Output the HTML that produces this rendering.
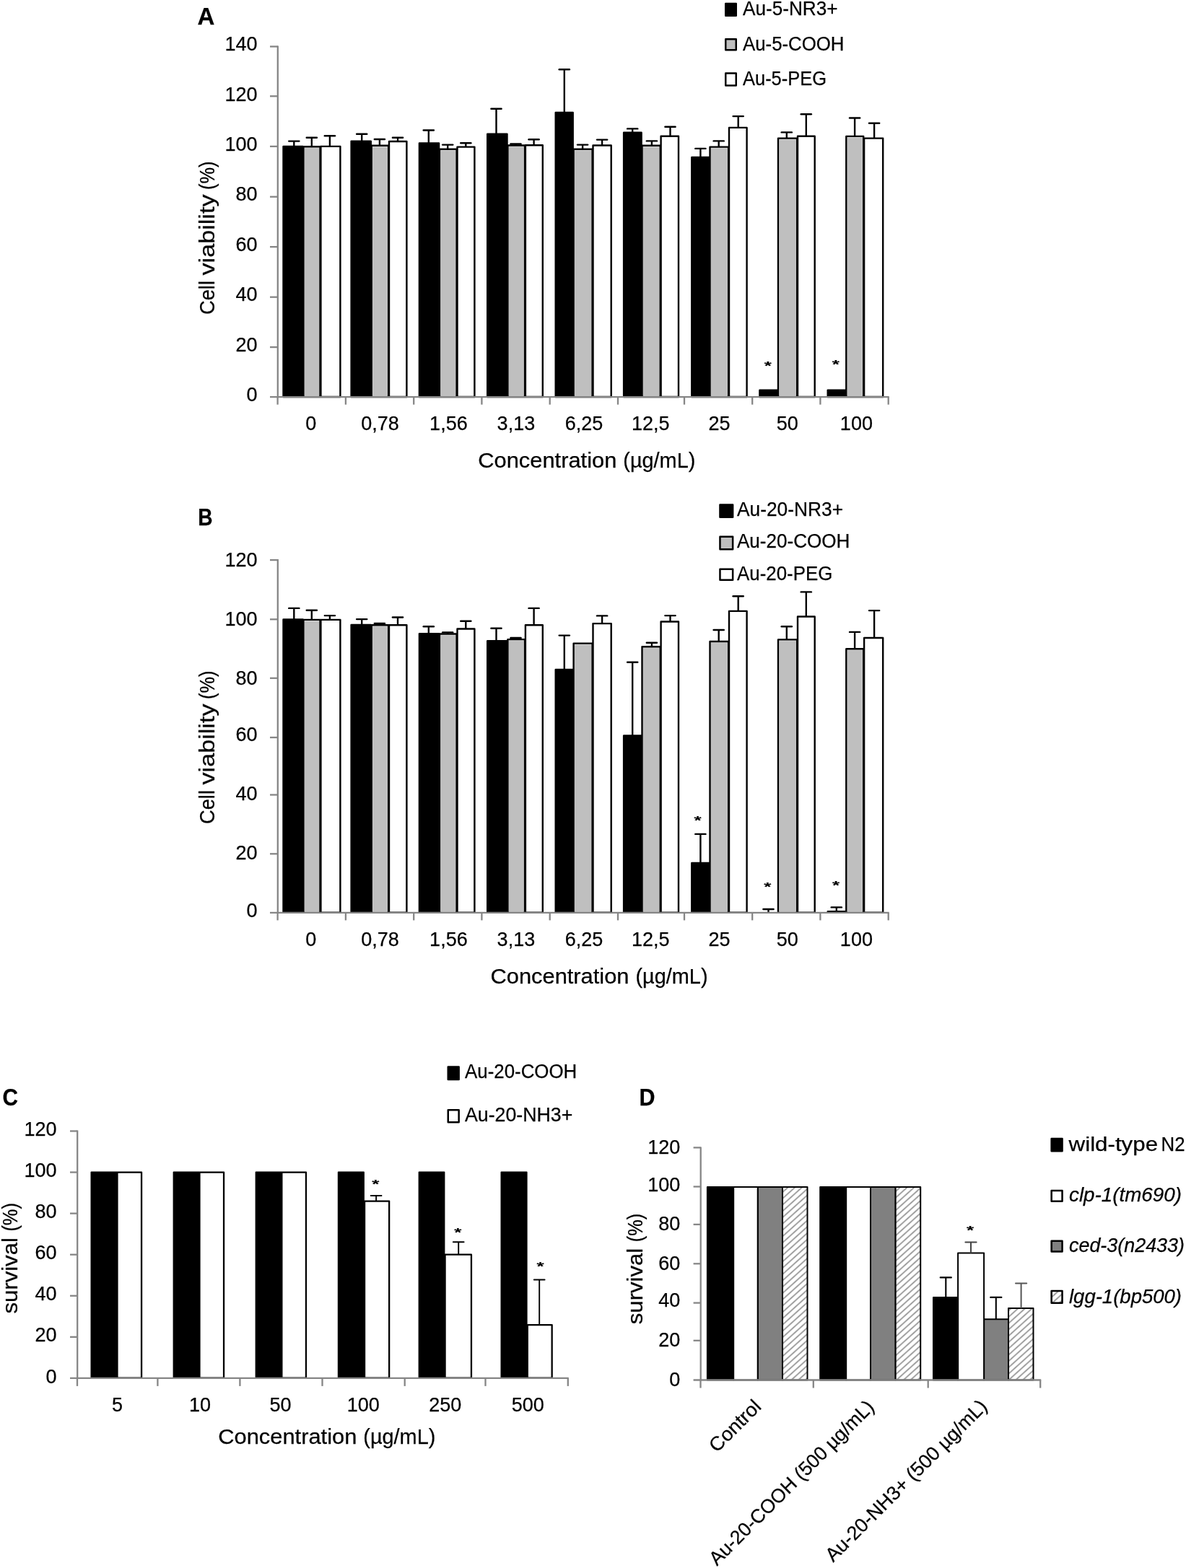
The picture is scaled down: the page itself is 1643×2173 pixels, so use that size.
<!DOCTYPE html>
<html lang="en"><head><meta charset="utf-8"><title>Figure</title>
<style>html,body{margin:0;padding:0;background:#fff;overflow:hidden}svg{display:block}text{font-family:"Liberation Sans", sans-serif;stroke:#000;stroke-width:0.25px}</style></head><body>
<svg width="1643" height="2173" viewBox="0 0 1643 2173">
<defs><pattern id="hatch" patternUnits="userSpaceOnUse" width="6.5" height="6.5" patternTransform="rotate(-42)"><rect width="6.5" height="6.5" fill="#fff"/><line x1="0" y1="3.25" x2="6.5" y2="3.25" stroke="#858585" stroke-width="1.55"/></pattern></defs>
<rect width="1643" height="2173" fill="#fff"/>
<rect x="420.40" y="203.20" width="23.10" height="346.80" fill="#d6d6d6" stroke="#000" stroke-width="2.4" stroke-linejoin="round"/>
<rect x="422.00" y="205.40" width="19.90" height="344.80" fill="#bfbfbf"/>
<rect x="392.50" y="202.90" width="27.00" height="347.10" fill="#000" stroke="#000" stroke-width="2.4" stroke-linejoin="round"/>
<rect x="444.40" y="202.90" width="27.00" height="347.10" fill="#fff" stroke="#000" stroke-width="2.4" stroke-linejoin="round"/>
<line x1="407.30" y1="195.60" x2="407.30" y2="202.70" stroke="#000" stroke-width="2.4" />
<line x1="400.20" y1="195.60" x2="414.40" y2="195.60" stroke="#000" stroke-width="2.4" stroke-linecap="round"/>
<line x1="431.80" y1="190.70" x2="431.80" y2="203.00" stroke="#000" stroke-width="2.4" />
<line x1="424.70" y1="190.70" x2="438.90" y2="190.70" stroke="#000" stroke-width="2.4" stroke-linecap="round"/>
<line x1="456.90" y1="188.20" x2="456.90" y2="202.70" stroke="#000" stroke-width="2.4" />
<line x1="449.80" y1="188.20" x2="464.00" y2="188.20" stroke="#000" stroke-width="2.4" stroke-linecap="round"/>
<rect x="514.70" y="201.80" width="23.40" height="348.20" fill="#d6d6d6" stroke="#000" stroke-width="2.4" stroke-linejoin="round"/>
<rect x="516.30" y="204.00" width="20.20" height="346.20" fill="#bfbfbf"/>
<rect x="486.60" y="195.80" width="27.20" height="354.20" fill="#000" stroke="#000" stroke-width="2.4" stroke-linejoin="round"/>
<rect x="539.00" y="196.00" width="24.40" height="354.00" fill="#fff" stroke="#000" stroke-width="2.4" stroke-linejoin="round"/>
<line x1="501.20" y1="185.70" x2="501.20" y2="195.60" stroke="#000" stroke-width="2.4" />
<line x1="494.10" y1="185.70" x2="508.30" y2="185.70" stroke="#000" stroke-width="2.4" stroke-linecap="round"/>
<line x1="525.90" y1="193.00" x2="525.90" y2="201.60" stroke="#000" stroke-width="2.4" />
<line x1="518.80" y1="193.00" x2="533.00" y2="193.00" stroke="#000" stroke-width="2.4" stroke-linecap="round"/>
<line x1="551.00" y1="190.70" x2="551.00" y2="195.80" stroke="#000" stroke-width="2.4" />
<line x1="543.90" y1="190.70" x2="558.10" y2="190.70" stroke="#000" stroke-width="2.4" stroke-linecap="round"/>
<rect x="609.00" y="206.70" width="23.60" height="343.30" fill="#d6d6d6" stroke="#000" stroke-width="2.4" stroke-linejoin="round"/>
<rect x="610.60" y="208.90" width="20.40" height="341.30" fill="#bfbfbf"/>
<rect x="580.90" y="198.40" width="27.20" height="351.60" fill="#000" stroke="#000" stroke-width="2.4" stroke-linejoin="round"/>
<rect x="633.50" y="203.60" width="23.90" height="346.40" fill="#fff" stroke="#000" stroke-width="2.4" stroke-linejoin="round"/>
<line x1="593.80" y1="180.50" x2="593.80" y2="198.20" stroke="#000" stroke-width="2.4" />
<line x1="586.70" y1="180.50" x2="600.90" y2="180.50" stroke="#000" stroke-width="2.4" stroke-linecap="round"/>
<line x1="620.20" y1="200.60" x2="620.20" y2="206.50" stroke="#000" stroke-width="2.4" />
<line x1="613.10" y1="200.60" x2="627.30" y2="200.60" stroke="#000" stroke-width="2.4" stroke-linecap="round"/>
<line x1="645.30" y1="198.30" x2="645.30" y2="203.40" stroke="#000" stroke-width="2.4" />
<line x1="638.20" y1="198.30" x2="652.40" y2="198.30" stroke="#000" stroke-width="2.4" stroke-linecap="round"/>
<rect x="703.40" y="201.50" width="23.60" height="348.50" fill="#d6d6d6" stroke="#000" stroke-width="2.4" stroke-linejoin="round"/>
<rect x="705.00" y="203.70" width="20.40" height="346.50" fill="#bfbfbf"/>
<rect x="675.20" y="185.80" width="27.30" height="364.20" fill="#000" stroke="#000" stroke-width="2.4" stroke-linejoin="round"/>
<rect x="727.90" y="201.20" width="23.90" height="348.80" fill="#fff" stroke="#000" stroke-width="2.4" stroke-linejoin="round"/>
<line x1="687.50" y1="150.70" x2="687.50" y2="185.60" stroke="#000" stroke-width="2.4" />
<line x1="680.40" y1="150.70" x2="694.60" y2="150.70" stroke="#000" stroke-width="2.4" stroke-linecap="round"/>
<line x1="714.50" y1="199.50" x2="714.50" y2="201.30" stroke="#000" stroke-width="2.4" />
<line x1="707.40" y1="199.50" x2="721.60" y2="199.50" stroke="#000" stroke-width="2.4" stroke-linecap="round"/>
<line x1="739.60" y1="193.30" x2="739.60" y2="201.00" stroke="#000" stroke-width="2.4" />
<line x1="732.50" y1="193.30" x2="746.70" y2="193.30" stroke="#000" stroke-width="2.4" stroke-linecap="round"/>
<rect x="794.60" y="206.70" width="26.00" height="343.30" fill="#d6d6d6" stroke="#000" stroke-width="2.4" stroke-linejoin="round"/>
<rect x="796.20" y="208.90" width="22.80" height="341.30" fill="#bfbfbf"/>
<rect x="769.70" y="156.00" width="24.00" height="394.00" fill="#000" stroke="#000" stroke-width="2.4" stroke-linejoin="round"/>
<rect x="821.50" y="201.50" width="25.20" height="348.50" fill="#fff" stroke="#000" stroke-width="2.4" stroke-linejoin="round"/>
<line x1="781.80" y1="96.20" x2="781.80" y2="155.80" stroke="#000" stroke-width="2.4" />
<line x1="774.70" y1="96.20" x2="788.90" y2="96.20" stroke="#000" stroke-width="2.4" stroke-linecap="round"/>
<line x1="807.10" y1="200.60" x2="807.10" y2="206.50" stroke="#000" stroke-width="2.4" />
<line x1="800.00" y1="200.60" x2="814.20" y2="200.60" stroke="#000" stroke-width="2.4" stroke-linecap="round"/>
<line x1="834.10" y1="193.60" x2="834.10" y2="201.30" stroke="#000" stroke-width="2.4" />
<line x1="827.00" y1="193.60" x2="841.20" y2="193.60" stroke="#000" stroke-width="2.4" stroke-linecap="round"/>
<rect x="889.50" y="201.80" width="25.20" height="348.20" fill="#d6d6d6" stroke="#000" stroke-width="2.4" stroke-linejoin="round"/>
<rect x="891.10" y="204.00" width="22.00" height="346.20" fill="#bfbfbf"/>
<rect x="864.10" y="183.70" width="24.50" height="366.30" fill="#000" stroke="#000" stroke-width="2.4" stroke-linejoin="round"/>
<rect x="915.60" y="188.70" width="24.40" height="361.30" fill="#fff" stroke="#000" stroke-width="2.4" stroke-linejoin="round"/>
<line x1="876.20" y1="178.40" x2="876.20" y2="183.50" stroke="#000" stroke-width="2.4" />
<line x1="869.10" y1="178.40" x2="883.30" y2="178.40" stroke="#000" stroke-width="2.4" stroke-linecap="round"/>
<line x1="902.90" y1="195.40" x2="902.90" y2="201.60" stroke="#000" stroke-width="2.4" />
<line x1="895.80" y1="195.40" x2="910.00" y2="195.40" stroke="#000" stroke-width="2.4" stroke-linecap="round"/>
<line x1="928.50" y1="175.80" x2="928.50" y2="188.50" stroke="#000" stroke-width="2.4" />
<line x1="921.40" y1="175.80" x2="935.60" y2="175.80" stroke="#000" stroke-width="2.4" stroke-linecap="round"/>
<rect x="983.50" y="203.60" width="25.60" height="346.40" fill="#d6d6d6" stroke="#000" stroke-width="2.4" stroke-linejoin="round"/>
<rect x="985.10" y="205.80" width="22.40" height="344.40" fill="#bfbfbf"/>
<rect x="958.30" y="218.00" width="24.30" height="332.00" fill="#000" stroke="#000" stroke-width="2.4" stroke-linejoin="round"/>
<rect x="1010.00" y="176.90" width="24.60" height="373.10" fill="#fff" stroke="#000" stroke-width="2.4" stroke-linejoin="round"/>
<line x1="970.40" y1="205.90" x2="970.40" y2="217.80" stroke="#000" stroke-width="2.4" />
<line x1="963.30" y1="205.90" x2="977.50" y2="205.90" stroke="#000" stroke-width="2.4" stroke-linecap="round"/>
<line x1="995.70" y1="195.40" x2="995.70" y2="203.40" stroke="#000" stroke-width="2.4" />
<line x1="988.60" y1="195.40" x2="1002.80" y2="195.40" stroke="#000" stroke-width="2.4" stroke-linecap="round"/>
<line x1="1022.70" y1="161.10" x2="1022.70" y2="176.70" stroke="#000" stroke-width="2.4" />
<line x1="1015.60" y1="161.10" x2="1029.80" y2="161.10" stroke="#000" stroke-width="2.4" stroke-linecap="round"/>
<rect x="1078.00" y="191.60" width="26.10" height="358.40" fill="#d6d6d6" stroke="#000" stroke-width="2.4" stroke-linejoin="round"/>
<rect x="1079.60" y="193.80" width="22.90" height="356.40" fill="#bfbfbf"/>
<rect x="1052.40" y="540.80" width="24.70" height="9.20" fill="#000" stroke="#000" stroke-width="2.4" stroke-linejoin="round"/>
<rect x="1105.00" y="188.70" width="23.70" height="361.30" fill="#fff" stroke="#000" stroke-width="2.4" stroke-linejoin="round"/>
<line x1="1089.80" y1="183.40" x2="1089.80" y2="191.40" stroke="#000" stroke-width="2.4" />
<line x1="1082.70" y1="183.40" x2="1096.90" y2="183.40" stroke="#000" stroke-width="2.4" stroke-linecap="round"/>
<line x1="1116.80" y1="158.30" x2="1116.80" y2="188.50" stroke="#000" stroke-width="2.4" />
<line x1="1109.70" y1="158.30" x2="1123.90" y2="158.30" stroke="#000" stroke-width="2.4" stroke-linecap="round"/>
<rect x="1172.30" y="188.90" width="23.90" height="361.10" fill="#d6d6d6" stroke="#000" stroke-width="2.4" stroke-linejoin="round"/>
<rect x="1173.90" y="191.10" width="20.70" height="359.10" fill="#bfbfbf"/>
<rect x="1146.70" y="540.60" width="24.70" height="9.40" fill="#000" stroke="#000" stroke-width="2.4" stroke-linejoin="round"/>
<rect x="1197.10" y="191.60" width="26.10" height="358.40" fill="#fff" stroke="#000" stroke-width="2.4" stroke-linejoin="round"/>
<line x1="1184.10" y1="163.50" x2="1184.10" y2="188.70" stroke="#000" stroke-width="2.4" />
<line x1="1177.00" y1="163.50" x2="1191.20" y2="163.50" stroke="#000" stroke-width="2.4" stroke-linecap="round"/>
<line x1="1211.10" y1="170.80" x2="1211.10" y2="191.40" stroke="#000" stroke-width="2.4" />
<line x1="1204.00" y1="170.80" x2="1218.20" y2="170.80" stroke="#000" stroke-width="2.4" stroke-linecap="round"/>
<line x1="384.80" y1="63.50" x2="384.80" y2="551.20" stroke="#868686" stroke-width="2.3" />
<line x1="374.00" y1="550.20" x2="1231.70" y2="550.20" stroke="#868686" stroke-width="2.3" />
<text x="356.60" y="556.00" font-size="27" text-anchor="end" fill="#000">0</text>
<line x1="374.00" y1="481.10" x2="384.80" y2="481.10" stroke="#868686" stroke-width="2.3" />
<text x="356.60" y="486.60" font-size="27" text-anchor="end" fill="#000">20</text>
<line x1="374.00" y1="411.70" x2="384.80" y2="411.70" stroke="#868686" stroke-width="2.3" />
<text x="356.60" y="417.30" font-size="27" text-anchor="end" fill="#000">40</text>
<line x1="374.00" y1="342.10" x2="384.80" y2="342.10" stroke="#868686" stroke-width="2.3" />
<text x="356.60" y="348.10" font-size="27" text-anchor="end" fill="#000">60</text>
<line x1="374.00" y1="272.70" x2="384.80" y2="272.70" stroke="#868686" stroke-width="2.3" />
<text x="356.60" y="278.20" font-size="27" text-anchor="end" fill="#000">80</text>
<line x1="374.00" y1="202.90" x2="384.80" y2="202.90" stroke="#868686" stroke-width="2.3" />
<text x="356.60" y="208.90" font-size="27" text-anchor="end" fill="#000">100</text>
<line x1="374.00" y1="133.30" x2="384.80" y2="133.30" stroke="#868686" stroke-width="2.3" />
<text x="356.60" y="139.50" font-size="27" text-anchor="end" fill="#000">120</text>
<line x1="374.00" y1="64.50" x2="384.80" y2="64.50" stroke="#868686" stroke-width="2.3" />
<text x="356.60" y="70.10" font-size="27" text-anchor="end" fill="#000">140</text>
<line x1="384.60" y1="550.20" x2="384.60" y2="560.70" stroke="#868686" stroke-width="2.3" />
<line x1="478.90" y1="550.20" x2="478.90" y2="560.70" stroke="#868686" stroke-width="2.3" />
<line x1="573.20" y1="550.20" x2="573.20" y2="560.70" stroke="#868686" stroke-width="2.3" />
<line x1="667.40" y1="550.20" x2="667.40" y2="560.70" stroke="#868686" stroke-width="2.3" />
<line x1="761.70" y1="550.20" x2="761.70" y2="560.70" stroke="#868686" stroke-width="2.3" />
<line x1="856.00" y1="550.20" x2="856.00" y2="560.70" stroke="#868686" stroke-width="2.3" />
<line x1="948.00" y1="550.20" x2="948.00" y2="560.70" stroke="#868686" stroke-width="2.3" />
<line x1="1042.20" y1="550.20" x2="1042.20" y2="560.70" stroke="#868686" stroke-width="2.3" />
<line x1="1136.40" y1="550.20" x2="1136.40" y2="560.70" stroke="#868686" stroke-width="2.3" />
<line x1="1230.70" y1="550.20" x2="1230.70" y2="560.70" stroke="#868686" stroke-width="2.3" />
<text x="430.70" y="596.00" font-size="27" text-anchor="middle" fill="#000">0</text>
<text x="526.60" y="596.00" font-size="27" text-anchor="middle" fill="#000">0,78</text>
<text x="621.40" y="596.00" font-size="27" text-anchor="middle" fill="#000">1,56</text>
<text x="714.90" y="596.00" font-size="27" text-anchor="middle" fill="#000">3,13</text>
<text x="809.00" y="596.00" font-size="27" text-anchor="middle" fill="#000">6,25</text>
<text x="901.20" y="596.00" font-size="27" text-anchor="middle" fill="#000">12,5</text>
<text x="996.40" y="596.00" font-size="27" text-anchor="middle" fill="#000">25</text>
<text x="1090.80" y="596.00" font-size="27" text-anchor="middle" fill="#000">50</text>
<text x="1186.40" y="596.00" font-size="27" text-anchor="middle" fill="#000">100</text>
<text font-size="29"><tspan x="662.30" y="648.30" textLength="192.0" lengthAdjust="spacingAndGlyphs">Concentration</tspan> <tspan x="863.30" y="648.30" textLength="100.0" lengthAdjust="spacingAndGlyphs">(µg/mL)</tspan></text>
<text font-size="29" transform="rotate(-90 297.00 436.00)"><tspan x="297.00" y="436.00" textLength="47.0" lengthAdjust="spacingAndGlyphs">Cell</tspan> <tspan x="351.50" y="436.00" textLength="112.0" lengthAdjust="spacingAndGlyphs">viability</tspan> <tspan x="470.00" y="436.00" textLength="39.5" lengthAdjust="spacingAndGlyphs">(%)</tspan></text>
<text transform="translate(1063.70 504.80) scale(1.08 0.68)" x="0" y="12.41" font-size="24" font-weight="bold" text-anchor="middle" stroke="#000" stroke-width="0.9" stroke-linejoin="round">*</text>
<text transform="translate(1157.90 502.30) scale(1.08 0.68)" x="0" y="12.41" font-size="24" font-weight="bold" text-anchor="middle" stroke="#000" stroke-width="0.9" stroke-linejoin="round">*</text>
<text x="273.60" y="33.70" font-size="33" text-anchor="start" fill="#000" font-weight="bold">A</text>
<rect x="1005.25" y="4.95" width="14.50" height="16.80" fill="#000" stroke="#000" stroke-width="2.5" stroke-linejoin="round"/>
<text x="1029.00" y="21.20" font-size="27" text-anchor="start" fill="#000" textLength="131.5" lengthAdjust="spacingAndGlyphs">Au-5-NR3+</text>
<rect x="1005.25" y="54.25" width="14.50" height="15.00" fill="#bfbfbf" stroke="#000" stroke-width="2.5" stroke-linejoin="round"/>
<text x="1029.00" y="70.00" font-size="27" text-anchor="start" fill="#000" textLength="140.5" lengthAdjust="spacingAndGlyphs">Au-5-COOH</text>
<rect x="1005.25" y="101.45" width="14.50" height="17.10" fill="#fff" stroke="#000" stroke-width="2.5" stroke-linejoin="round"/>
<text x="1029.00" y="117.50" font-size="27" text-anchor="start" fill="#000" textLength="116.0" lengthAdjust="spacingAndGlyphs">Au-5-PEG</text>
<rect x="420.40" y="858.90" width="23.10" height="405.80" fill="#d6d6d6" stroke="#000" stroke-width="2.4" stroke-linejoin="round"/>
<rect x="422.00" y="861.10" width="19.90" height="403.80" fill="#bfbfbf"/>
<rect x="392.50" y="858.40" width="27.00" height="406.30" fill="#000" stroke="#000" stroke-width="2.4" stroke-linejoin="round"/>
<rect x="444.40" y="858.90" width="27.00" height="405.80" fill="#fff" stroke="#000" stroke-width="2.4" stroke-linejoin="round"/>
<line x1="407.30" y1="842.90" x2="407.30" y2="858.20" stroke="#000" stroke-width="2.4" />
<line x1="400.20" y1="842.90" x2="414.40" y2="842.90" stroke="#000" stroke-width="2.4" stroke-linecap="round"/>
<line x1="431.80" y1="845.80" x2="431.80" y2="858.70" stroke="#000" stroke-width="2.4" />
<line x1="424.70" y1="845.80" x2="438.90" y2="845.80" stroke="#000" stroke-width="2.4" stroke-linecap="round"/>
<line x1="456.90" y1="853.10" x2="456.90" y2="858.70" stroke="#000" stroke-width="2.4" />
<line x1="449.80" y1="853.10" x2="464.00" y2="853.10" stroke="#000" stroke-width="2.4" stroke-linecap="round"/>
<rect x="514.70" y="866.20" width="23.40" height="398.50" fill="#d6d6d6" stroke="#000" stroke-width="2.4" stroke-linejoin="round"/>
<rect x="516.30" y="868.40" width="20.20" height="396.50" fill="#bfbfbf"/>
<rect x="486.60" y="866.00" width="27.20" height="398.70" fill="#000" stroke="#000" stroke-width="2.4" stroke-linejoin="round"/>
<rect x="539.00" y="866.20" width="24.40" height="398.50" fill="#fff" stroke="#000" stroke-width="2.4" stroke-linejoin="round"/>
<line x1="501.20" y1="858.10" x2="501.20" y2="865.80" stroke="#000" stroke-width="2.4" />
<line x1="494.10" y1="858.10" x2="508.30" y2="858.10" stroke="#000" stroke-width="2.4" stroke-linecap="round"/>
<line x1="525.90" y1="864.00" x2="525.90" y2="866.00" stroke="#000" stroke-width="2.4" />
<line x1="518.80" y1="864.00" x2="533.00" y2="864.00" stroke="#000" stroke-width="2.4" stroke-linecap="round"/>
<line x1="551.00" y1="855.50" x2="551.00" y2="866.00" stroke="#000" stroke-width="2.4" />
<line x1="543.90" y1="855.50" x2="558.10" y2="855.50" stroke="#000" stroke-width="2.4" stroke-linecap="round"/>
<rect x="609.00" y="878.50" width="23.60" height="386.20" fill="#d6d6d6" stroke="#000" stroke-width="2.4" stroke-linejoin="round"/>
<rect x="610.60" y="880.70" width="20.40" height="384.20" fill="#bfbfbf"/>
<rect x="580.90" y="878.30" width="27.20" height="386.40" fill="#000" stroke="#000" stroke-width="2.4" stroke-linejoin="round"/>
<rect x="633.50" y="871.50" width="23.90" height="393.20" fill="#fff" stroke="#000" stroke-width="2.4" stroke-linejoin="round"/>
<line x1="593.80" y1="868.30" x2="593.80" y2="878.10" stroke="#000" stroke-width="2.4" />
<line x1="586.70" y1="868.30" x2="600.90" y2="868.30" stroke="#000" stroke-width="2.4" stroke-linecap="round"/>
<line x1="620.20" y1="876.40" x2="620.20" y2="878.30" stroke="#000" stroke-width="2.4" />
<line x1="613.10" y1="876.40" x2="627.30" y2="876.40" stroke="#000" stroke-width="2.4" stroke-linecap="round"/>
<line x1="645.30" y1="860.70" x2="645.30" y2="871.30" stroke="#000" stroke-width="2.4" />
<line x1="638.20" y1="860.70" x2="652.40" y2="860.70" stroke="#000" stroke-width="2.4" stroke-linecap="round"/>
<rect x="703.40" y="886.10" width="23.60" height="378.60" fill="#d6d6d6" stroke="#000" stroke-width="2.4" stroke-linejoin="round"/>
<rect x="705.00" y="888.30" width="20.40" height="376.60" fill="#bfbfbf"/>
<rect x="675.20" y="888.20" width="27.30" height="376.50" fill="#000" stroke="#000" stroke-width="2.4" stroke-linejoin="round"/>
<rect x="727.90" y="866.20" width="23.90" height="398.50" fill="#fff" stroke="#000" stroke-width="2.4" stroke-linejoin="round"/>
<line x1="687.50" y1="870.70" x2="687.50" y2="888.00" stroke="#000" stroke-width="2.4" />
<line x1="680.40" y1="870.70" x2="694.60" y2="870.70" stroke="#000" stroke-width="2.4" stroke-linecap="round"/>
<line x1="714.50" y1="884.00" x2="714.50" y2="885.90" stroke="#000" stroke-width="2.4" />
<line x1="707.40" y1="884.00" x2="721.60" y2="884.00" stroke="#000" stroke-width="2.4" stroke-linecap="round"/>
<line x1="739.60" y1="842.90" x2="739.60" y2="866.00" stroke="#000" stroke-width="2.4" />
<line x1="732.50" y1="842.90" x2="746.70" y2="842.90" stroke="#000" stroke-width="2.4" stroke-linecap="round"/>
<rect x="794.60" y="891.60" width="26.00" height="373.10" fill="#d6d6d6" stroke="#000" stroke-width="2.4" stroke-linejoin="round"/>
<rect x="796.20" y="893.80" width="22.80" height="371.10" fill="#bfbfbf"/>
<rect x="769.70" y="928.00" width="24.00" height="336.70" fill="#000" stroke="#000" stroke-width="2.4" stroke-linejoin="round"/>
<rect x="821.50" y="864.10" width="25.20" height="400.60" fill="#fff" stroke="#000" stroke-width="2.4" stroke-linejoin="round"/>
<line x1="781.80" y1="880.60" x2="781.80" y2="927.80" stroke="#000" stroke-width="2.4" />
<line x1="774.70" y1="880.60" x2="788.90" y2="880.60" stroke="#000" stroke-width="2.4" stroke-linecap="round"/>
<line x1="834.10" y1="853.40" x2="834.10" y2="863.90" stroke="#000" stroke-width="2.4" />
<line x1="827.00" y1="853.40" x2="841.20" y2="853.40" stroke="#000" stroke-width="2.4" stroke-linecap="round"/>
<rect x="889.50" y="896.30" width="25.20" height="368.40" fill="#d6d6d6" stroke="#000" stroke-width="2.4" stroke-linejoin="round"/>
<rect x="891.10" y="898.50" width="22.00" height="366.40" fill="#bfbfbf"/>
<rect x="864.10" y="1019.50" width="24.50" height="245.20" fill="#000" stroke="#000" stroke-width="2.4" stroke-linejoin="round"/>
<rect x="915.60" y="861.50" width="24.40" height="403.20" fill="#fff" stroke="#000" stroke-width="2.4" stroke-linejoin="round"/>
<line x1="876.20" y1="917.80" x2="876.20" y2="1019.30" stroke="#000" stroke-width="2.4" />
<line x1="869.10" y1="917.80" x2="883.30" y2="917.80" stroke="#000" stroke-width="2.4" stroke-linecap="round"/>
<line x1="902.90" y1="890.80" x2="902.90" y2="896.10" stroke="#000" stroke-width="2.4" />
<line x1="895.80" y1="890.80" x2="910.00" y2="890.80" stroke="#000" stroke-width="2.4" stroke-linecap="round"/>
<line x1="928.50" y1="853.10" x2="928.50" y2="861.30" stroke="#000" stroke-width="2.4" />
<line x1="921.40" y1="853.10" x2="935.60" y2="853.10" stroke="#000" stroke-width="2.4" stroke-linecap="round"/>
<rect x="983.50" y="889.00" width="25.60" height="375.70" fill="#d6d6d6" stroke="#000" stroke-width="2.4" stroke-linejoin="round"/>
<rect x="985.10" y="891.20" width="22.40" height="373.70" fill="#bfbfbf"/>
<rect x="958.30" y="1195.90" width="24.30" height="68.80" fill="#000" stroke="#000" stroke-width="2.4" stroke-linejoin="round"/>
<rect x="1010.00" y="846.90" width="24.60" height="417.80" fill="#fff" stroke="#000" stroke-width="2.4" stroke-linejoin="round"/>
<line x1="970.40" y1="1155.90" x2="970.40" y2="1195.70" stroke="#000" stroke-width="2.4" />
<line x1="963.30" y1="1155.90" x2="977.50" y2="1155.90" stroke="#000" stroke-width="2.4" stroke-linecap="round"/>
<line x1="995.70" y1="873.00" x2="995.70" y2="888.80" stroke="#000" stroke-width="2.4" />
<line x1="988.60" y1="873.00" x2="1002.80" y2="873.00" stroke="#000" stroke-width="2.4" stroke-linecap="round"/>
<line x1="1022.70" y1="826.20" x2="1022.70" y2="846.70" stroke="#000" stroke-width="2.4" />
<line x1="1015.60" y1="826.20" x2="1029.80" y2="826.20" stroke="#000" stroke-width="2.4" stroke-linecap="round"/>
<rect x="1078.00" y="886.40" width="26.10" height="378.30" fill="#d6d6d6" stroke="#000" stroke-width="2.4" stroke-linejoin="round"/>
<rect x="1079.60" y="888.60" width="22.90" height="376.30" fill="#bfbfbf"/>
<rect x="1105.00" y="854.50" width="23.70" height="410.20" fill="#fff" stroke="#000" stroke-width="2.4" stroke-linejoin="round"/>
<line x1="1064.50" y1="1260.00" x2="1064.50" y2="1265.90" stroke="#000" stroke-width="2.4" />
<line x1="1057.40" y1="1260.00" x2="1071.60" y2="1260.00" stroke="#000" stroke-width="2.4" stroke-linecap="round"/>
<line x1="1089.80" y1="868.30" x2="1089.80" y2="886.20" stroke="#000" stroke-width="2.4" />
<line x1="1082.70" y1="868.30" x2="1096.90" y2="868.30" stroke="#000" stroke-width="2.4" stroke-linecap="round"/>
<line x1="1116.80" y1="820.40" x2="1116.80" y2="854.30" stroke="#000" stroke-width="2.4" />
<line x1="1109.70" y1="820.40" x2="1123.90" y2="820.40" stroke="#000" stroke-width="2.4" stroke-linecap="round"/>
<rect x="1172.30" y="899.20" width="23.90" height="365.50" fill="#d6d6d6" stroke="#000" stroke-width="2.4" stroke-linejoin="round"/>
<rect x="1173.90" y="901.40" width="20.70" height="363.50" fill="#bfbfbf"/>
<rect x="1146.70" y="1263.10" width="24.70" height="1.60" fill="#000" stroke="#000" stroke-width="2.4" stroke-linejoin="round"/>
<rect x="1197.10" y="884.00" width="26.10" height="380.70" fill="#fff" stroke="#000" stroke-width="2.4" stroke-linejoin="round"/>
<line x1="1158.80" y1="1257.40" x2="1158.80" y2="1262.90" stroke="#000" stroke-width="2.4" />
<line x1="1151.70" y1="1257.40" x2="1165.90" y2="1257.40" stroke="#000" stroke-width="2.4" stroke-linecap="round"/>
<line x1="1184.10" y1="875.90" x2="1184.10" y2="899.00" stroke="#000" stroke-width="2.4" />
<line x1="1177.00" y1="875.90" x2="1191.20" y2="875.90" stroke="#000" stroke-width="2.4" stroke-linecap="round"/>
<line x1="1211.10" y1="846.10" x2="1211.10" y2="883.80" stroke="#000" stroke-width="2.4" />
<line x1="1204.00" y1="846.10" x2="1218.20" y2="846.10" stroke="#000" stroke-width="2.4" stroke-linecap="round"/>
<line x1="384.80" y1="775.10" x2="384.80" y2="1265.90" stroke="#868686" stroke-width="2.3" />
<line x1="374.00" y1="1264.90" x2="1231.70" y2="1264.90" stroke="#868686" stroke-width="2.3" />
<text x="356.60" y="1270.60" font-size="27" text-anchor="end" fill="#000">0</text>
<line x1="374.00" y1="1183.30" x2="384.80" y2="1183.30" stroke="#868686" stroke-width="2.3" />
<text x="356.60" y="1191.30" font-size="27" text-anchor="end" fill="#000">20</text>
<line x1="374.00" y1="1101.50" x2="384.80" y2="1101.50" stroke="#868686" stroke-width="2.3" />
<text x="356.60" y="1108.80" font-size="27" text-anchor="end" fill="#000">40</text>
<line x1="374.00" y1="1022.00" x2="384.80" y2="1022.00" stroke="#868686" stroke-width="2.3" />
<text x="356.60" y="1027.00" font-size="27" text-anchor="end" fill="#000">60</text>
<line x1="374.00" y1="939.80" x2="384.80" y2="939.80" stroke="#868686" stroke-width="2.3" />
<text x="356.60" y="948.80" font-size="27" text-anchor="end" fill="#000">80</text>
<line x1="374.00" y1="858.30" x2="384.80" y2="858.30" stroke="#868686" stroke-width="2.3" />
<text x="356.60" y="866.80" font-size="27" text-anchor="end" fill="#000">100</text>
<line x1="374.00" y1="776.10" x2="384.80" y2="776.10" stroke="#868686" stroke-width="2.3" />
<text x="356.60" y="784.90" font-size="27" text-anchor="end" fill="#000">120</text>
<line x1="384.60" y1="1264.90" x2="384.60" y2="1275.40" stroke="#868686" stroke-width="2.3" />
<line x1="478.90" y1="1264.90" x2="478.90" y2="1275.40" stroke="#868686" stroke-width="2.3" />
<line x1="573.20" y1="1264.90" x2="573.20" y2="1275.40" stroke="#868686" stroke-width="2.3" />
<line x1="667.40" y1="1264.90" x2="667.40" y2="1275.40" stroke="#868686" stroke-width="2.3" />
<line x1="761.70" y1="1264.90" x2="761.70" y2="1275.40" stroke="#868686" stroke-width="2.3" />
<line x1="856.00" y1="1264.90" x2="856.00" y2="1275.40" stroke="#868686" stroke-width="2.3" />
<line x1="948.00" y1="1264.90" x2="948.00" y2="1275.40" stroke="#868686" stroke-width="2.3" />
<line x1="1042.20" y1="1264.90" x2="1042.20" y2="1275.40" stroke="#868686" stroke-width="2.3" />
<line x1="1136.40" y1="1264.90" x2="1136.40" y2="1275.40" stroke="#868686" stroke-width="2.3" />
<line x1="1230.70" y1="1264.90" x2="1230.70" y2="1275.40" stroke="#868686" stroke-width="2.3" />
<text x="430.70" y="1311.40" font-size="27" text-anchor="middle" fill="#000">0</text>
<text x="526.60" y="1311.40" font-size="27" text-anchor="middle" fill="#000">0,78</text>
<text x="621.40" y="1311.40" font-size="27" text-anchor="middle" fill="#000">1,56</text>
<text x="714.90" y="1311.40" font-size="27" text-anchor="middle" fill="#000">3,13</text>
<text x="809.00" y="1311.40" font-size="27" text-anchor="middle" fill="#000">6,25</text>
<text x="901.20" y="1311.40" font-size="27" text-anchor="middle" fill="#000">12,5</text>
<text x="996.40" y="1311.40" font-size="27" text-anchor="middle" fill="#000">25</text>
<text x="1090.80" y="1311.40" font-size="27" text-anchor="middle" fill="#000">50</text>
<text x="1186.40" y="1311.40" font-size="27" text-anchor="middle" fill="#000">100</text>
<text font-size="29"><tspan x="679.50" y="1363.00" textLength="192.0" lengthAdjust="spacingAndGlyphs">Concentration</tspan> <tspan x="880.50" y="1363.00" textLength="100.0" lengthAdjust="spacingAndGlyphs">(µg/mL)</tspan></text>
<text font-size="29" transform="rotate(-90 297.00 1142.00)"><tspan x="297.00" y="1142.00" textLength="47.0" lengthAdjust="spacingAndGlyphs">Cell</tspan> <tspan x="351.50" y="1142.00" textLength="112.0" lengthAdjust="spacingAndGlyphs">viability</tspan> <tspan x="470.00" y="1142.00" textLength="39.5" lengthAdjust="spacingAndGlyphs">(%)</tspan></text>
<text transform="translate(966.50 1134.90) scale(1.08 0.68)" x="0" y="12.41" font-size="24" font-weight="bold" text-anchor="middle" stroke="#000" stroke-width="0.9" stroke-linejoin="round">*</text>
<text transform="translate(1063.30 1226.50) scale(1.08 0.68)" x="0" y="12.41" font-size="24" font-weight="bold" text-anchor="middle" stroke="#000" stroke-width="0.9" stroke-linejoin="round">*</text>
<text transform="translate(1158.10 1224.20) scale(1.08 0.68)" x="0" y="12.41" font-size="24" font-weight="bold" text-anchor="middle" stroke="#000" stroke-width="0.9" stroke-linejoin="round">*</text>
<text x="274.30" y="727.60" font-size="33" text-anchor="start" fill="#000" font-weight="bold" textLength="20.3" lengthAdjust="spacingAndGlyphs">B</text>
<rect x="997.45" y="699.55" width="17.70" height="17.20" fill="#000" stroke="#000" stroke-width="2.5" stroke-linejoin="round"/>
<text x="1021.00" y="715.30" font-size="27" text-anchor="start" fill="#000" textLength="147.0" lengthAdjust="spacingAndGlyphs">Au-20-NR3+</text>
<rect x="997.45" y="743.85" width="17.70" height="17.50" fill="#bfbfbf" stroke="#000" stroke-width="2.5" stroke-linejoin="round"/>
<text x="1021.00" y="759.40" font-size="27" text-anchor="start" fill="#000" textLength="156.3" lengthAdjust="spacingAndGlyphs">Au-20-COOH</text>
<rect x="997.45" y="788.85" width="17.70" height="14.90" fill="#fff" stroke="#000" stroke-width="2.5" stroke-linejoin="round"/>
<text x="1021.00" y="804.10" font-size="27" text-anchor="start" fill="#000" textLength="132.3" lengthAdjust="spacingAndGlyphs">Au-20-PEG</text>
<rect x="162.45" y="1624.55" width="33.60" height="285.20" fill="#fff" stroke="#000" stroke-width="2.3" stroke-linejoin="round"/>
<rect x="126.50" y="1624.40" width="34.80" height="285.50" fill="#000" stroke="#000" stroke-width="2" stroke-linejoin="round"/>
<rect x="276.45" y="1624.55" width="33.60" height="285.20" fill="#fff" stroke="#000" stroke-width="2.3" stroke-linejoin="round"/>
<rect x="240.60" y="1624.40" width="34.70" height="285.50" fill="#000" stroke="#000" stroke-width="2" stroke-linejoin="round"/>
<rect x="390.35" y="1624.55" width="33.60" height="285.20" fill="#fff" stroke="#000" stroke-width="2.3" stroke-linejoin="round"/>
<rect x="354.60" y="1624.40" width="34.60" height="285.50" fill="#000" stroke="#000" stroke-width="2" stroke-linejoin="round"/>
<rect x="505.05" y="1664.55" width="34.10" height="245.20" fill="#fff" stroke="#000" stroke-width="2.3" stroke-linejoin="round"/>
<rect x="468.80" y="1624.40" width="35.10" height="285.50" fill="#000" stroke="#000" stroke-width="2" stroke-linejoin="round"/>
<line x1="521.10" y1="1657.00" x2="521.10" y2="1664.40" stroke="#000" stroke-width="1.9" />
<line x1="513.70" y1="1657.00" x2="528.50" y2="1657.00" stroke="#000" stroke-width="1.9" stroke-linecap="round"/>
<rect x="616.55" y="1738.65" width="36.40" height="171.10" fill="#fff" stroke="#000" stroke-width="2.3" stroke-linejoin="round"/>
<rect x="580.60" y="1624.40" width="34.80" height="285.50" fill="#000" stroke="#000" stroke-width="2" stroke-linejoin="round"/>
<line x1="635.20" y1="1721.20" x2="635.20" y2="1738.50" stroke="#000" stroke-width="1.9" />
<line x1="627.80" y1="1721.20" x2="642.60" y2="1721.20" stroke="#000" stroke-width="1.9" stroke-linecap="round"/>
<rect x="730.75" y="1836.05" width="33.90" height="73.70" fill="#fff" stroke="#000" stroke-width="2.3" stroke-linejoin="round"/>
<rect x="694.50" y="1624.40" width="35.10" height="285.50" fill="#000" stroke="#000" stroke-width="2" stroke-linejoin="round"/>
<line x1="747.20" y1="1773.50" x2="747.20" y2="1835.90" stroke="#000" stroke-width="1.9" />
<line x1="739.80" y1="1773.50" x2="754.60" y2="1773.50" stroke="#000" stroke-width="1.9" stroke-linecap="round"/>
<line x1="107.20" y1="1566.50" x2="107.20" y2="1910.90" stroke="#868686" stroke-width="2.3" />
<line x1="97.00" y1="1909.90" x2="787.80" y2="1909.90" stroke="#868686" stroke-width="2.3" />
<text x="78.60" y="1916.50" font-size="27" text-anchor="end" fill="#000">0</text>
<line x1="97.00" y1="1852.83" x2="107.20" y2="1852.83" stroke="#868686" stroke-width="2.3" />
<text x="78.60" y="1859.43" font-size="27" text-anchor="end" fill="#000">20</text>
<line x1="97.00" y1="1795.77" x2="107.20" y2="1795.77" stroke="#868686" stroke-width="2.3" />
<text x="78.60" y="1802.37" font-size="27" text-anchor="end" fill="#000">40</text>
<line x1="97.00" y1="1738.70" x2="107.20" y2="1738.70" stroke="#868686" stroke-width="2.3" />
<text x="78.60" y="1745.30" font-size="27" text-anchor="end" fill="#000">60</text>
<line x1="97.00" y1="1681.63" x2="107.20" y2="1681.63" stroke="#868686" stroke-width="2.3" />
<text x="78.60" y="1688.23" font-size="27" text-anchor="end" fill="#000">80</text>
<line x1="97.00" y1="1624.57" x2="107.20" y2="1624.57" stroke="#868686" stroke-width="2.3" />
<text x="78.60" y="1631.17" font-size="27" text-anchor="end" fill="#000">100</text>
<line x1="97.00" y1="1567.50" x2="107.20" y2="1567.50" stroke="#868686" stroke-width="2.3" />
<text x="78.60" y="1574.10" font-size="27" text-anchor="end" fill="#000">120</text>
<line x1="107.00" y1="1909.90" x2="107.00" y2="1920.90" stroke="#868686" stroke-width="2.3" />
<line x1="218.40" y1="1909.90" x2="218.40" y2="1920.90" stroke="#868686" stroke-width="2.3" />
<line x1="332.40" y1="1909.90" x2="332.40" y2="1920.90" stroke="#868686" stroke-width="2.3" />
<line x1="446.50" y1="1909.90" x2="446.50" y2="1920.90" stroke="#868686" stroke-width="2.3" />
<line x1="560.70" y1="1909.90" x2="560.70" y2="1920.90" stroke="#868686" stroke-width="2.3" />
<line x1="672.50" y1="1909.90" x2="672.50" y2="1920.90" stroke="#868686" stroke-width="2.3" />
<line x1="786.80" y1="1909.90" x2="786.80" y2="1920.90" stroke="#868686" stroke-width="2.3" />
<text x="162.50" y="1956.20" font-size="27" text-anchor="middle" fill="#000">5</text>
<text x="277.00" y="1956.20" font-size="27" text-anchor="middle" fill="#000">10</text>
<text x="388.60" y="1956.20" font-size="27" text-anchor="middle" fill="#000">50</text>
<text x="503.30" y="1956.20" font-size="27" text-anchor="middle" fill="#000">100</text>
<text x="616.70" y="1956.20" font-size="27" text-anchor="middle" fill="#000">250</text>
<text x="731.20" y="1956.20" font-size="27" text-anchor="middle" fill="#000">500</text>
<text font-size="29"><tspan x="302.30" y="2000.80" textLength="192.0" lengthAdjust="spacingAndGlyphs">Concentration</tspan> <tspan x="503.30" y="2000.80" textLength="100.0" lengthAdjust="spacingAndGlyphs">(µg/mL)</tspan></text>
<text font-size="29" transform="rotate(-90 24.30 1820.60)"><tspan x="24.30" y="1820.60" textLength="105.5" lengthAdjust="spacingAndGlyphs">survival</tspan> <tspan x="138.30" y="1820.60" textLength="39.5" lengthAdjust="spacingAndGlyphs">(%)</tspan></text>
<text transform="translate(520.20 1638.60) scale(1.08 0.68)" x="0" y="12.41" font-size="24" font-weight="bold" text-anchor="middle" stroke="#000" stroke-width="0.9" stroke-linejoin="round">*</text>
<text transform="translate(634.30 1705.60) scale(1.08 0.68)" x="0" y="12.41" font-size="24" font-weight="bold" text-anchor="middle" stroke="#000" stroke-width="0.9" stroke-linejoin="round">*</text>
<text transform="translate(748.50 1752.70) scale(1.08 0.68)" x="0" y="12.41" font-size="24" font-weight="bold" text-anchor="middle" stroke="#000" stroke-width="0.9" stroke-linejoin="round">*</text>
<text x="3.40" y="1531.80" font-size="33" text-anchor="start" fill="#000" font-weight="bold" textLength="21.5" lengthAdjust="spacingAndGlyphs">C</text>
<rect x="620.75" y="1478.55" width="14.90" height="17.40" fill="#000" stroke="#000" stroke-width="2.5" stroke-linejoin="round"/>
<text x="644.00" y="1494.30" font-size="27" text-anchor="start" fill="#000" textLength="155.3" lengthAdjust="spacingAndGlyphs">Au-20-COOH</text>
<rect x="620.75" y="1538.25" width="14.90" height="16.90" fill="#fff" stroke="#000" stroke-width="2.5" stroke-linejoin="round"/>
<text x="644.00" y="1553.80" font-size="27" text-anchor="start" fill="#000" textLength="149.3" lengthAdjust="spacingAndGlyphs">Au-20-NH3+</text>
<rect x="1084.00" y="1645.10" width="34.50" height="267.40" fill="url(#hatch)" stroke="#000" stroke-width="2" stroke-linejoin="round"/>
<rect x="1049.70" y="1645.10" width="34.30" height="267.40" fill="#808080" stroke="#000" stroke-width="2" stroke-linejoin="round"/>
<rect x="1016.10" y="1645.10" width="33.60" height="267.40" fill="#fff" stroke="#000" stroke-width="2" stroke-linejoin="round"/>
<rect x="979.90" y="1645.10" width="36.20" height="267.40" fill="#000" stroke="#000" stroke-width="2" stroke-linejoin="round"/>
<rect x="1240.40" y="1645.10" width="34.80" height="267.40" fill="url(#hatch)" stroke="#000" stroke-width="2" stroke-linejoin="round"/>
<rect x="1206.00" y="1645.10" width="34.40" height="267.40" fill="#808080" stroke="#000" stroke-width="2" stroke-linejoin="round"/>
<rect x="1172.10" y="1645.10" width="33.90" height="267.40" fill="#fff" stroke="#000" stroke-width="2" stroke-linejoin="round"/>
<rect x="1136.20" y="1645.10" width="35.90" height="267.40" fill="#000" stroke="#000" stroke-width="2" stroke-linejoin="round"/>
<rect x="1397.00" y="1812.90" width="34.50" height="99.60" fill="url(#hatch)" stroke="#000" stroke-width="2" stroke-linejoin="round"/>
<rect x="1363.10" y="1828.20" width="33.90" height="84.30" fill="#808080" stroke="#000" stroke-width="2" stroke-linejoin="round"/>
<rect x="1327.10" y="1736.60" width="36.00" height="175.90" fill="#fff" stroke="#000" stroke-width="2" stroke-linejoin="round"/>
<rect x="1293.00" y="1798.00" width="34.10" height="114.50" fill="#000" stroke="#000" stroke-width="2" stroke-linejoin="round"/>
<line x1="1310.30" y1="1770.40" x2="1310.30" y2="1798.00" stroke="#000" stroke-width="2.1" />
<line x1="1302.70" y1="1770.40" x2="1317.90" y2="1770.40" stroke="#000" stroke-width="2.1" stroke-linecap="round"/>
<line x1="1345.00" y1="1721.60" x2="1345.00" y2="1736.60" stroke="#444" stroke-width="2.0" />
<line x1="1337.40" y1="1721.60" x2="1352.60" y2="1721.60" stroke="#444" stroke-width="2.0" stroke-linecap="round"/>
<line x1="1379.80" y1="1797.90" x2="1379.80" y2="1828.20" stroke="#000" stroke-width="2.1" />
<line x1="1372.20" y1="1797.90" x2="1387.40" y2="1797.90" stroke="#000" stroke-width="2.1" stroke-linecap="round"/>
<line x1="1414.60" y1="1778.60" x2="1414.60" y2="1812.90" stroke="#555" stroke-width="2.0" />
<line x1="1407.00" y1="1778.60" x2="1422.20" y2="1778.60" stroke="#555" stroke-width="2.0" stroke-linecap="round"/>
<line x1="970.70" y1="1589.40" x2="970.70" y2="1913.50" stroke="#868686" stroke-width="2.3" />
<line x1="960.60" y1="1912.50" x2="1442.20" y2="1912.50" stroke="#868686" stroke-width="2.3" />
<text x="942.20" y="1920.70" font-size="27" text-anchor="end" fill="#000">0</text>
<line x1="960.60" y1="1857.80" x2="970.70" y2="1857.80" stroke="#868686" stroke-width="2.3" />
<text x="942.20" y="1865.90" font-size="27" text-anchor="end" fill="#000">20</text>
<line x1="960.60" y1="1805.60" x2="970.70" y2="1805.60" stroke="#868686" stroke-width="2.3" />
<text x="942.20" y="1811.40" font-size="27" text-anchor="end" fill="#000">40</text>
<line x1="960.60" y1="1751.30" x2="970.70" y2="1751.30" stroke="#868686" stroke-width="2.3" />
<text x="942.20" y="1759.50" font-size="27" text-anchor="end" fill="#000">60</text>
<line x1="960.60" y1="1696.90" x2="970.70" y2="1696.90" stroke="#868686" stroke-width="2.3" />
<text x="942.20" y="1705.00" font-size="27" text-anchor="end" fill="#000">80</text>
<line x1="960.60" y1="1644.50" x2="970.70" y2="1644.50" stroke="#868686" stroke-width="2.3" />
<text x="942.20" y="1651.00" font-size="27" text-anchor="end" fill="#000">100</text>
<line x1="960.60" y1="1590.40" x2="970.70" y2="1590.40" stroke="#868686" stroke-width="2.3" />
<text x="942.20" y="1598.50" font-size="27" text-anchor="end" fill="#000">120</text>
<line x1="970.50" y1="1912.50" x2="970.50" y2="1923.50" stroke="#868686" stroke-width="2.3" />
<line x1="1126.80" y1="1912.50" x2="1126.80" y2="1923.50" stroke="#868686" stroke-width="2.3" />
<line x1="1285.70" y1="1912.50" x2="1285.70" y2="1923.50" stroke="#868686" stroke-width="2.3" />
<line x1="1441.20" y1="1912.50" x2="1441.20" y2="1923.50" stroke="#868686" stroke-width="2.3" />
<text x="1056.00" y="1951.00" font-size="27" text-anchor="end" fill="#000" textLength="89.0" lengthAdjust="spacingAndGlyphs" transform="rotate(-45 1056.00 1951.00)">Control</text>
<text x="1212.40" y="1951.60" font-size="27" text-anchor="end" fill="#000" textLength="310.0" lengthAdjust="spacingAndGlyphs" transform="rotate(-45 1212.40 1951.60)">Au-20-COOH (500 µg/mL)</text>
<text x="1369.20" y="1950.70" font-size="27" text-anchor="end" fill="#000" textLength="304.0" lengthAdjust="spacingAndGlyphs" transform="rotate(-45 1369.20 1950.70)">Au-20-NH3+ (500 µg/mL)</text>
<text font-size="29" transform="rotate(-90 890.20 1835.20)"><tspan x="890.20" y="1835.20" textLength="105.5" lengthAdjust="spacingAndGlyphs">survival</tspan> <tspan x="1004.20" y="1835.20" textLength="39.5" lengthAdjust="spacingAndGlyphs">(%)</tspan></text>
<text transform="translate(1344.00 1702.80) scale(1.08 0.68)" x="0" y="12.41" font-size="24" font-weight="bold" text-anchor="middle" stroke="#000" stroke-width="0.9" stroke-linejoin="round">*</text>
<text x="885.60" y="1531.60" font-size="33" text-anchor="start" fill="#000" font-weight="bold" textLength="22.0" lengthAdjust="spacingAndGlyphs">D</text>
<rect x="1456.65" y="1578.05" width="14.90" height="17.20" fill="#000" stroke="#000" stroke-width="2.5" stroke-linejoin="round"/>
<text font-size="27"><tspan x="1480.60" y="1595.40" textLength="123.5" lengthAdjust="spacingAndGlyphs">wild-type</tspan> <tspan x="1608.60" y="1595.40" textLength="33.0" lengthAdjust="spacingAndGlyphs">N2</tspan></text>
<rect x="1456.65" y="1650.05" width="14.90" height="14.80" fill="#fff" stroke="#000" stroke-width="2.5" stroke-linejoin="round"/>
<text x="1481.00" y="1665.40" font-size="27" text-anchor="start" fill="#000" font-style="italic" textLength="156.0" lengthAdjust="spacingAndGlyphs">clp-1(tm690)</text>
<rect x="1456.65" y="1719.75" width="14.90" height="14.80" fill="#808080" stroke="#000" stroke-width="2.5" stroke-linejoin="round"/>
<text x="1481.00" y="1735.00" font-size="27" text-anchor="start" fill="#000" font-style="italic" textLength="160.0" lengthAdjust="spacingAndGlyphs">ced-3(n2433)</text>
<rect x="1456.65" y="1789.05" width="14.90" height="16.70" fill="url(#hatch)" stroke="#000" stroke-width="2.5" stroke-linejoin="round"/>
<text x="1481.00" y="1805.50" font-size="27" text-anchor="start" fill="#000" font-style="italic" textLength="156.0" lengthAdjust="spacingAndGlyphs">lgg-1(bp500)</text>
</svg></body></html>
